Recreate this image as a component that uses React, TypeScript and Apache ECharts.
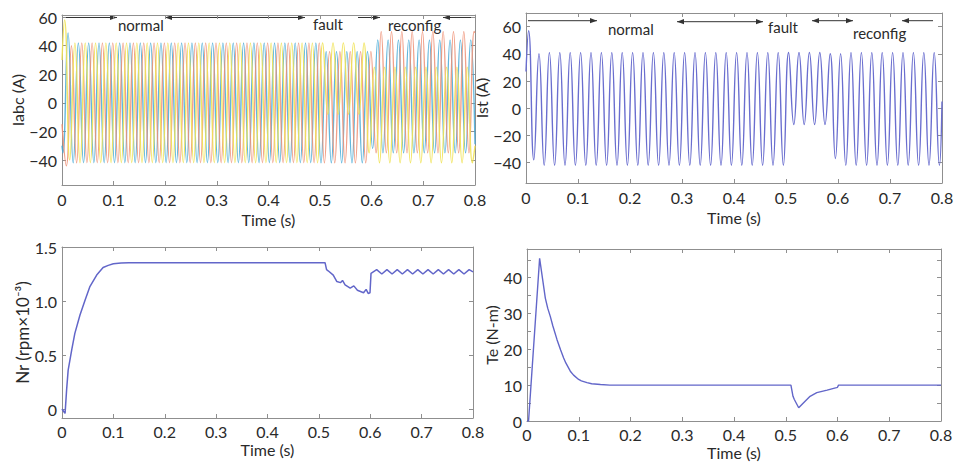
import React, { useEffect, useRef } from 'react';
import * as echarts from 'echarts';

// ---------- data ----------
// Ist (A): extremes per cycle; peaks at 0.005 + 0.02k s, troughs at 0.015 + 0.02k s
const istStart = 27;
const istEnd = 5;
const istPeaks = [
  57, 40, 41, 41, 41, 41, 41, 41, 41, 41,
  41, 41, 41, 41, 41, 41, 41, 41, 41, 41,
  41, 41, 41, 41, 41, 41, 41, 41, 41, 40,
  40, 41, 41, 41, 41, 41, 41, 41, 41, 41,
];
const istTroughs = [
  -38, -42, -42, -42, -42, -42, -42, -42, -42, -42,
  -42, -42, -42, -42, -42, -42, -42, -42, -42, -42,
  -42, -42, -42, -42, -42, -12, -12, -12, -12, -37,
  -42, -42, -42, -42, -42, -42, -42, -42, -42, -42,
];

// Iabc (A): phase shown in yellow (peaks 0.005 + 0.02k, troughs 0.015 + 0.02k)
const icStart = 30;
const icEnd = -30;
const icPeaks = [
  58, 42, 42, 42, 42, 42, 42, 42, 42, 42,
  42, 42, 42, 42, 42, 42, 42, 42, 42, 42,
  42, 42, 42, 42, 42, 42, 42, 42, 42, 42,
  25, 25, 25, 25, 25, 25, 25, 25, 25, 25,
];
const icTroughs = [
  -40, -42, -42, -42, -42, -42, -42, -42, -42, -42,
  -42, -42, -42, -42, -42, -42, -42, -42, -42, -42,
  -42, -42, -42, -42, -42, -8, -8, -8, -8, -35,
  -42, -42, -42, -42, -42, -42, -42, -42, -42, -42,
];
// phase shown in blue (troughs 0.0017 + 0.02k, peaks 0.0117 + 0.02k)
const iaStart = -30;
const iaEnd = -29;
const iaTroughs = [
  -35, -42, -42, -42, -42, -42, -42, -42, -42, -42,
  -42, -42, -42, -42, -42, -42, -42, -42, -42, -42,
  -42, -42, -42, -42, -42, -42, -42, -42, -42, -42,
  -32, -35, -35, -35, -35, -35, -35, -35, -35, -35,
];
const iaPeaks = [
  49, 42, 42, 42, 42, 42, 42, 42, 42, 42,
  42, 42, 42, 42, 42, 42, 42, 42, 42, 42,
  42, 42, 42, 42, 42, 36, 36, 36, 36, 36,
  44, 44, 44, 44, 44, 44, 44, 44, 44, 44,
];
// phase shown in orange (troughs 0.0083 + 0.02k, peaks 0.0183 + 0.02k)
const ibStart = -15;
const ibEnd = 49;
const ibTroughs = [
  -44, -42, -42, -42, -42, -42, -42, -42, -42, -42,
  -42, -42, -42, -42, -42, -42, -42, -42, -42, -42,
  -42, -42, -42, -42, -42, -42, -42, -42, -42, -42,
  -35, -35, -35, -35, -35, -35, -35, -35, -35, -35,
];
const ibPeaks = [
  40, 42, 42, 42, 42, 42, 42, 42, 42, 42,
  42, 42, 42, 42, 42, 42, 42, 42, 42, 42,
  42, 42, 42, 42, 42, 36, 36, 36, 36, 36,
  50, 50, 50, 50, 50, 50, 50, 50, 50, 50,
];

// Nr (rpm x 10^-3)
const nrTime = [
  0, 0.003, 0.006, 0.009, 0.012, 0.019, 0.025, 0.035, 0.045, 0.054,
  0.0675, 0.08, 0.09, 0.1, 0.115, 0.13, 0.512, 0.515, 0.518, 0.528,
  0.535, 0.542, 0.546, 0.551, 0.561, 0.568, 0.575, 0.587, 0.592, 0.596,
  0.5995, 0.6015, 0.6125, 0.6225, 0.6325, 0.6425, 0.6525, 0.6625, 0.6725, 0.6825,
  0.6925, 0.7025, 0.7125, 0.7225, 0.7325, 0.7425, 0.7525, 0.7625, 0.7725, 0.7825,
  0.7925, 0.8,
];
const nrValue = [
  0, -0.02, -0.04, 0.18, 0.36, 0.55, 0.7, 0.87, 1.01, 1.13,
  1.24, 1.31, 1.33, 1.345, 1.352, 1.355, 1.355, 1.29, 1.28, 1.24,
  1.18, 1.17, 1.19, 1.15, 1.12, 1.14, 1.1, 1.077, 1.108, 1.07,
  1.077, 1.256, 1.29, 1.25, 1.29, 1.25, 1.29, 1.25, 1.29, 1.25,
  1.29, 1.25, 1.29, 1.25, 1.29, 1.25, 1.29, 1.25, 1.29, 1.25,
  1.29, 1.27,
];

// Te (N-m)
const teTime = [
  0, 0.003, 0.0244, 0.0354, 0.04, 0.045, 0.05, 0.058, 0.065, 0.0708,
  0.075, 0.0837, 0.09, 0.0998, 0.105, 0.116, 0.125, 0.142, 0.16, 0.51,
  0.514, 0.5166, 0.525, 0.5345, 0.547, 0.56, 0.58, 0.598, 0.6, 0.602,
  0.8,
];
const teValue = [
  0, 0, 45.4, 34.3, 31.5, 29.2, 26.5, 22.7, 19.8, 17.6,
  16.2, 13.9, 12.8, 11.6, 11.2, 10.7, 10.4, 10.2, 10.0, 10.0,
  6.9, 6.0, 3.7, 5.1, 6.9, 7.9, 8.6, 9.3, 9.4, 10.0,
  10.0,
];

const timeTicks = [0, 0.1, 0.2, 0.3, 0.4, 0.5, 0.6, 0.7, 0.8];
const currentTicks = [-40, -20, 0, 20, 40, 60];
const nrTicks = [0, 0.5, 1.0, 1.5];
const teLabelTicks = [0, 10, 20, 30, 40];
const teMinorTicks = [0, 5, 10, 15, 20, 25, 30, 35, 40, 45];

// ---------- helpers to turn the read values into series ----------
const r4 = (v: number) => Math.round(v * 10000) / 10000;
function waveform(
  start: number,
  end: number,
  first: number[],
  second: number[],
  t0: number
): number[][] {
  const out: number[][] = [[0, start]];
  for (let k = 0; k < first.length; k++) {
    out.push([r4(t0 + 0.02 * k), first[k]]);
    out.push([r4(t0 + 0.01 + 0.02 * k), second[k]]);
  }
  out.push([0.8, end]);
  return out;
}
const pairs = (t: number[], v: number[]) => t.map((x, i) => [x, v[i]]);

const FONT = 'Lato, "Noto Sans", sans-serif';
const TXT = '#2a2a2a';
const AX = '#8f8f8f';

function xPair(grid: number) {
  const base = {
    type: 'value' as const,
    gridIndex: grid,
    min: 0,
    max: 0.8,
    interval: 0.1,
    splitLine: { show: false },
    axisLine: { show: true, onZero: false, lineStyle: { color: AX, width: 1 } },
    axisTick: { show: true, inside: true, length: 4, lineStyle: { color: AX } },
  };
  const top = grid < 2;
  return [
    {
      ...base,
      position: 'bottom',
      name: 'Time (s)',
      nameLocation: 'middle',
      nameGap: top ? 26 : 23,
      nameTextStyle: { fontFamily: FONT, fontSize: 16, color: TXT },
      axisLabel: {
        show: true,
        margin: top ? 6 : 5,
        fontFamily: FONT,
        fontSize: 16,
        color: TXT,
        formatter: (v: number) => (v === 0 ? '0' : String(Math.round(v * 10) / 10)),
        customValues: timeTicks,
      },
    },
    { ...base, position: 'top', axisLabel: { show: false } },
  ];
}

function yPair(
  grid: number,
  min: number,
  max: number,
  labels: number[],
  ticks: number[],
  name: string,
  gap: number,
  nameSize: number,
  fmt: (v: number) => string
) {
  const base = {
    type: 'value' as const,
    gridIndex: grid,
    min,
    max,
    splitLine: { show: false },
    axisLine: { show: true, onZero: false, lineStyle: { color: AX, width: 1 } },
    axisTick: {
      show: true,
      inside: true,
      length: 4,
      lineStyle: { color: AX },
      customValues: ticks,
    },
  };
  return [
    {
      ...base,
      position: 'left',
      name,
      nameLocation: 'middle',
      nameGap: gap,
      nameTextStyle: { fontFamily: FONT, fontSize: nameSize, color: TXT },
      axisLabel: {
        show: true,
        margin: 5,
        fontFamily: FONT,
        fontSize: 16,
        color: TXT,
        customValues: labels,
        formatter: fmt,
      },
    },
    { ...base, position: 'right', axisLabel: { show: false } },
  ];
}

function arrow(x1: number, x2: number, y: number, headLeft: boolean, headRight: boolean) {
  const els: any[] = [
    {
      type: 'line',
      shape: { x1, y1: y, x2, y2: y },
      style: { stroke: '#333', lineWidth: 1 },
    },
  ];
  if (headRight) {
    els.push({
      type: 'polygon',
      shape: { points: [[x2, y], [x2 - 7, y - 2.6], [x2 - 7, y + 2.6]] },
      style: { fill: '#333' },
    });
  }
  if (headLeft) {
    els.push({
      type: 'polygon',
      shape: { points: [[x1, y], [x1 + 7, y - 2.6], [x1 + 7, y + 2.6]] },
      style: { fill: '#333' },
    });
  }
  return els;
}

function label(text: string, x: number, y: number) {
  return {
    type: 'text',
    x,
    y,
    style: {
      text,
      fill: TXT,
      font: `15px ${FONT}`,
      textVerticalAlign: 'middle',
      verticalAlign: 'middle',
    },
  };
}

export default function App() {
  const ref = useRef<HTMLDivElement>(null);

  useEffect(() => {
    document.body.style.margin = '0';
    if (!ref.current) return;
    const chart = echarts.init(ref.current, undefined, { renderer: 'svg' });

    const curFmt = (v: number) => (v < 0 ? '\u2212' + Math.abs(v) : String(v));
    const nrFmt = (v: number) => (v === 0 ? '0' : v.toFixed(1));

    const lineBase = {
      type: 'line' as const,
      showSymbol: false,
      symbol: 'none',
      animation: false,
    };

    chart.setOption({
      animation: false,
      backgroundColor: '#ffffff',
      grid: [
        { left: 62, top: 15, width: 413, height: 170 },
        { left: 526, top: 13, width: 416, height: 170 },
        { left: 62, top: 247, width: 411, height: 171 },
        { left: 527, top: 249, width: 414, height: 172 },
      ],
      xAxis: [...xPair(0), ...xPair(1), ...xPair(2), ...xPair(3)],
      yAxis: [
        ...yPair(0, -57.5, 61.5, currentTicks, currentTicks, 'Iabc (A)', 24, 16, curFmt),
        ...yPair(1, -55, 70, currentTicks, currentTicks, 'Ist (A)', 26, 16, curFmt),
        ...yPair(2, -0.083, 1.5, nrTicks, nrTicks, 'Nr (rpm\u00d710\u207b\u00b3)', 27, 17, nrFmt),
        ...yPair(3, 0, 48, teLabelTicks, teMinorTicks, 'Te (N-m)', 24, 16, (v: number) => String(v)),
      ],
      series: [
        {
          ...lineBase,
          name: 'Ia',
          xAxisIndex: 0,
          yAxisIndex: 0,
          smooth: true,
          data: waveform(iaStart, iaEnd, iaTroughs, iaPeaks, 0.0017),
          lineStyle: { color: '#45a9d6', width: 1.4, opacity: 0.85 },
        },
        {
          ...lineBase,
          name: 'Ib',
          xAxisIndex: 0,
          yAxisIndex: 0,
          smooth: true,
          data: waveform(ibStart, ibEnd, ibTroughs, ibPeaks, 0.0083),
          lineStyle: { color: '#ee9075', width: 1.4, opacity: 0.85 },
        },
        {
          ...lineBase,
          name: 'Ic',
          xAxisIndex: 0,
          yAxisIndex: 0,
          smooth: true,
          data: waveform(icStart, icEnd, icPeaks, icTroughs, 0.005),
          lineStyle: { color: '#f0e255', width: 1.4, opacity: 0.9 },
        },
        {
          ...lineBase,
          name: 'Ist',
          xAxisIndex: 2,
          yAxisIndex: 2,
          smooth: true,
          data: waveform(istStart, istEnd, istPeaks, istTroughs, 0.005),
          lineStyle: { color: '#6a6ecf', width: 1.4 },
        },
        {
          ...lineBase,
          name: 'Nr',
          xAxisIndex: 4,
          yAxisIndex: 4,
          data: pairs(nrTime, nrValue),
          lineStyle: { color: '#6266c9', width: 1.5 },
        },
        {
          ...lineBase,
          name: 'Te',
          xAxisIndex: 6,
          yAxisIndex: 6,
          data: pairs(teTime, teValue),
          lineStyle: { color: '#6266c9', width: 1.4 },
        },
      ],
      graphic: [
        ...arrow(63, 117, 17.5, false, true),
        label('normal', 118, 25),
        ...arrow(165, 305, 17.5, true, true),
        label('fault', 313, 24),
        ...arrow(358, 380, 17.5, false, true),
        label('reconfig', 388, 25),
        ...arrow(443, 473, 17.5, true, false),
        ...arrow(528, 597, 20.7, false, true),
        label('normal', 608, 29),
        ...arrow(677, 763, 21.7, true, true),
        label('fault', 768, 26.7),
        ...arrow(812, 853, 20.7, true, true),
        label('reconfig', 853, 33),
        ...arrow(902, 933, 20.7, true, false),
      ],
    });

    return () => chart.dispose();
  }, []);

  return <div ref={ref} style={{ width: 958, height: 467 }} />;
}
